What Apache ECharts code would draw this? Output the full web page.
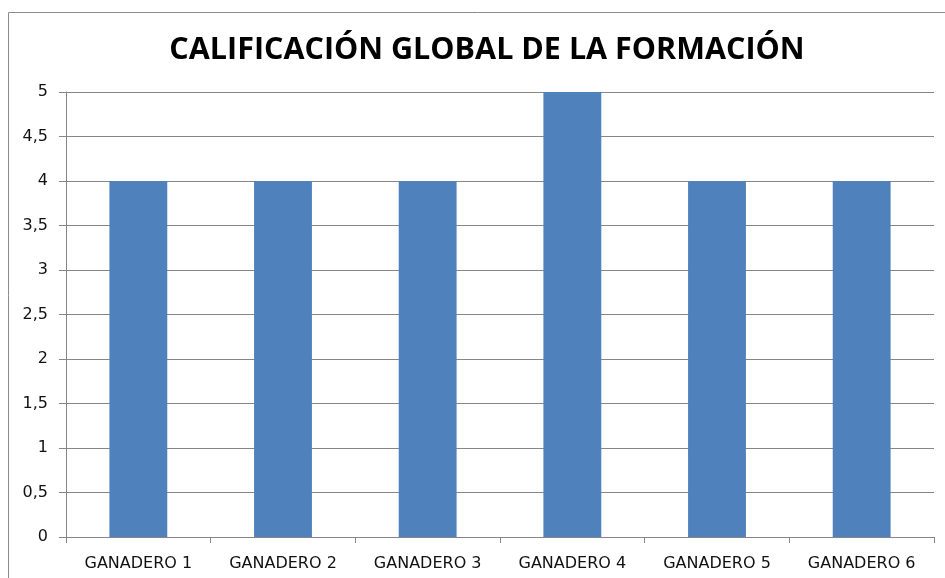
<!DOCTYPE html>
<html>
<head>
<meta charset="utf-8">
<script src="https://cdn.jsdelivr.net/npm/echarts@6/dist/echarts.min.js"></script>
<style>
  html, body { margin: 0; padding: 0; background: #fff; }
  #chart { width: 945px; height: 578px; }
</style>
</head>
<body>
<div id="chart"></div>
<script>
const titulo = 'CALIFICACIÓN GLOBAL DE LA FORMACIÓN';
const ganaderos = ['GANADERO 1', 'GANADERO 2', 'GANADERO 3', 'GANADERO 4', 'GANADERO 5', 'GANADERO 6'];
const calificaciones = [4, 4, 4, 5, 4, 4];

const chart = echarts.init(document.getElementById('chart'));
chart.setOption({
  animation: false,
  title: {
    text: titulo,
    left: 482,
    top: 30,
    textAlign: 'center',
    textStyle: { fontFamily: 'Open Sans', fontWeight: 'bold', fontSize: 30.5, color: '#000' }
  },
  graphic: [{
    type: 'rect',
    shape: { x: 8.5, y: 12.5, width: 1000, height: 1000 },
    style: { fill: 'none', stroke: '#8c8c8c', lineWidth: 1 },
    silent: true
  }],
  grid: { left: 66, right: 11, top: 92, bottom: 41 },
  xAxis: {
    type: 'category',
    data: ganaderos,
    axisLine: { lineStyle: { color: '#868686' } },
    axisTick: { show: true, alignWithLabel: false, length: 6, lineStyle: { color: '#868686' } },
    axisLabel: { color: '#111', fontFamily: 'DejaVu Sans', fontSize: 16, margin: 19 }
  },
  yAxis: {
    type: 'value',
    min: 0,
    max: 5,
    interval: 0.5,
    axisLine: { show: true, lineStyle: { color: '#868686' } },
    axisTick: { show: true, length: 7, lineStyle: { color: '#868686' } },
    splitLine: { lineStyle: { color: '#868686' } },
    axisLabel: {
      color: '#111', fontFamily: 'DejaVu Sans', fontSize: 16, margin: 18,
      formatter: v => String(v).replace('.', ',')
    }
  },
  series: [{
    type: 'bar',
    data: calificaciones,
    barCategoryGap: '60%',
    itemStyle: { color: '#4F81BD' }
  }]
});
</script>
</body>
</html>
